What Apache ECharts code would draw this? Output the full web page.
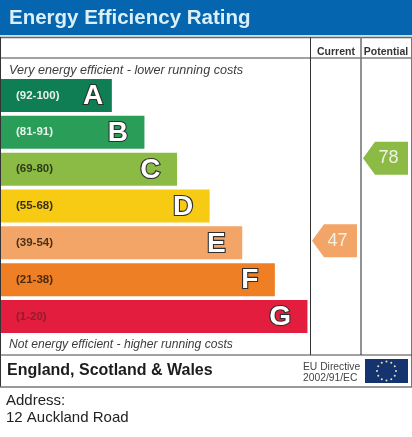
<!DOCTYPE html>
<html><head><meta charset="utf-8">
<style>html,body{margin:0;padding:0;background:#fff}#c{width:412px;height:437px}</style>
<script src="https://cdn.jsdelivr.net/npm/echarts@6/dist/echarts.min.js"></script>
</head><body><div id="c"></div>
<script>
const ranges = ['(92-100)','(81-91)','(69-80)','(55-68)','(39-54)','(21-38)','(1-20)'];
const letters = ['A','B','C','D','E','F','G'];
const barLengths = [34,44,54,64,74,84,94];
const barColors = ['#0f7e54','#2a9e58','#8bbb45','#f7cb14','#f2a566','#ee7f24','#e21d3d'];
const rangeColors = ['#e6f2ea','#e6f2ea','#2e3a1c','#3a3218','#4a3018','#4a2a10','#8c1f30'];
const columns = ['Current','Potential'];
const currentScore = 47, currentBand = '(39-54)';
const potentialScore = 78, potentialBand = '(69-80)';
const F = '"Liberation Sans",Arial,sans-serif';

const chart = echarts.init(document.getElementById('c'), null, {renderer:'canvas'});
function line(x1,y1,x2,y2,color,w){return {type:'line',z:20,shape:{x1,y1,x2,y2},style:{stroke:color,lineWidth:w}};}
function txt(x,y,text,font,fill,align){return {type:'text',z:21,x,y,style:{text,font,fill,align:align||'left',verticalAlign:'middle'}};}
const stars = [];
for(let i=0;i<12;i++){const a=i*Math.PI/6;
  stars.push({type:'circle',z:22,shape:{cx:386.5+9.5*Math.cos(a),cy:371+9.5*Math.sin(a),r:1},style:{fill:'#e8e6b0'}});}
const pin = 'path://M0 16.5 L12 0 L45 0 L45 33 L12 33 Z';
chart.setOption({
  animation:false,
  backgroundColor:'#fff',
  grid:[
    {left:1,top:77,width:326,height:258},
    {left:311,top:77,width:100,height:258}
  ],
  xAxis:[
    {gridIndex:0,type:'value',min:0,max:100,show:false},
    {gridIndex:1,type:'category',data:columns,position:'top',
     axisLine:{show:false},axisTick:{show:false},
     axisLabel:{interval:0,margin:25,fontFamily:F,fontWeight:'bold',fontSize:10.5,color:'#333',verticalAlign:'middle'}}
  ],
  yAxis:[
    {gridIndex:0,type:'category',inverse:true,data:ranges,z:10,
     axisLine:{show:false},axisTick:{show:false},
     axisLabel:{inside:true,margin:15,fontFamily:F,fontWeight:'bold',fontSize:11.5,
       color:(v,i)=>rangeColors[i]}},
    {gridIndex:1,type:'category',inverse:true,data:ranges,show:false}
  ],
  series:[
    {type:'bar',xAxisIndex:0,yAxisIndex:0,barWidth:33,
     data:barLengths.map((v,i)=>({value:v,itemStyle:{color:barColors[i]},
       label:{distance:i===0?8.5:16.5}})),
     label:{show:true,position:'insideRight',offset:[0,1],formatter:p=>letters[p.dataIndex],
       fontFamily:F,fontWeight:'bold',fontSize:28,color:'#fff',
       textBorderColor:'#2e2e2e',textBorderWidth:2.2}},
    {type:'scatter',xAxisIndex:1,yAxisIndex:1,symbol:pin,symbolSize:[45,33],
     itemStyle:{opacity:1},
     label:{show:true,position:'inside',offset:[3,0],formatter:p=>String(p.value[2]),
       fontFamily:F,fontSize:18,color:'#f3f1e4'},
     data:[
       {value:['Current',currentBand,currentScore],itemStyle:{color:barColors[4],opacity:1},symbolOffset:[-1.5,-2]},
       {value:['Potential',potentialBand,potentialScore],itemStyle:{color:barColors[2],opacity:1},symbolOffset:[-0.5,-11]}
     ]}
  ],
  graphic:[
    {type:'rect',z:19,shape:{x:0,y:0,width:412,height:35},style:{fill:'#0565ae'}},
    {type:'rect',z:19,shape:{x:0,y:35,width:412,height:1.5},style:{fill:'#bfe3f2'}},
    line(0,37.5,412,37.5,'#666',1.5),
    line(0,58,412,58,'#444',1),
    line(0.5,37,0.5,387,'#333',1),
    line(411.5,37,411.5,387,'#777',1),
    line(310.5,37,310.5,355,'#333',1),
    line(361,37,361,355,'#777',1.6),
    line(0,355,412,355,'#444',1),
    line(0,387,412,387,'#777',1.6),
    txt(9,18,'Energy Efficiency Rating','bold 20.5px '+F,'#d9f0fa'),
    txt(9,70,'Very energy efficient - lower running costs','italic 12.6px '+F,'#3c3c3c'),
    txt(9,345,'Not energy efficient - higher running costs','italic 12.1px '+F,'#3c3c3c'),
    txt(7,371,'England, Scotland & Wales','bold 16px '+F,'#1c1c1c'),
    txt(303,367,'EU Directive','10.3px '+F,'#444'),
    txt(303,378,'2002/91/EC','10.3px '+F,'#444'),
    txt(6,401,'Address:','15px '+F,'#222'),
    txt(6,418,'12 Auckland Road','15px '+F,'#222'),
    {type:'rect',z:21,shape:{x:365,y:359,width:43,height:24},style:{fill:'#14336f'}},
    ...stars
  ]
});
</script></body></html>
